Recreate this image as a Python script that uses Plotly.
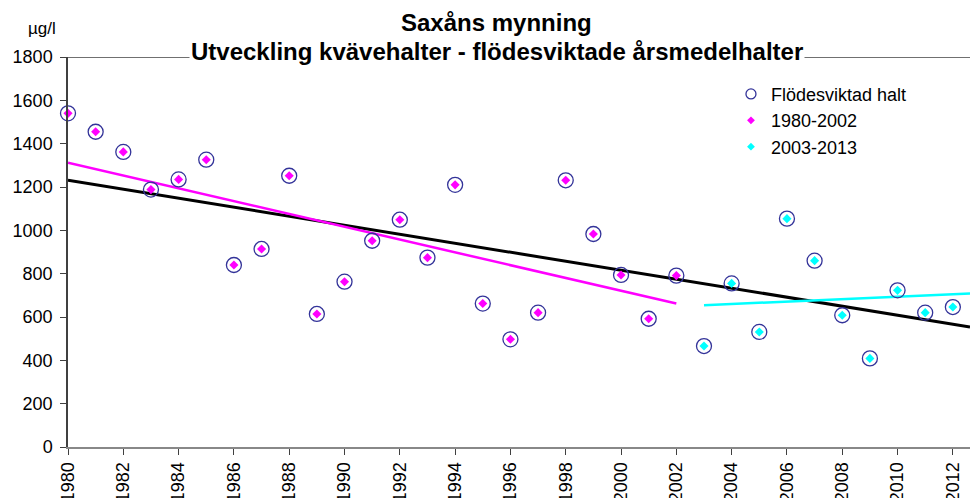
import plotly.graph_objects as go

# ---- data ----
years = list(range(1980, 2013))
values = [1540, 1455, 1362, 1188, 1235, 1326, 840, 914, 1252, 614,
          763, 952, 1049, 874, 1210, 662, 497, 620, 1231, 983,
          794, 592, 791, 466, 755, 531, 1054, 860, 608, 409,
          723, 620, 646]

period1_years = [y for y in years if y <= 2002]
period1_values = values[:len(period1_years)]
period2_years = [y for y in years if y >= 2003]
period2_values = values[len(period1_years):]

# trend lines (end points)
trend_all_x = [1980, 2012.62]
trend_all_y = [1231, 554]
trend_p1_x = [1980, 2002]
trend_p1_y = [1312, 662]
trend_p2_x = [2003, 2012.62]
trend_p2_y = [654, 709]

y_ticks = list(range(0, 1801, 200))
x_ticks = list(range(1980, 2013, 2))

FONT = "Liberation Sans, Arial, sans-serif"
NAVY = "#333399"
MAG = "#FF00FF"
CYAN = "#00FFFF"

fig = go.Figure()

# trend lines
fig.add_trace(go.Scatter(x=trend_all_x, y=trend_all_y, mode="lines",
                         line=dict(color="black", width=3), showlegend=False, hoverinfo="skip"))
fig.add_trace(go.Scatter(x=trend_p1_x, y=trend_p1_y, mode="lines",
                         line=dict(color=MAG, width=2.5), showlegend=False, hoverinfo="skip"))
fig.add_trace(go.Scatter(x=trend_p2_x, y=trend_p2_y, mode="lines",
                         line=dict(color=CYAN, width=2.5), showlegend=False, hoverinfo="skip"))

# data markers
fig.add_trace(go.Scatter(x=years, y=values, mode="markers", cliponaxis=False,
                         marker=dict(symbol="circle-open", size=15, color=NAVY, line=dict(width=1.3, color=NAVY)),
                         showlegend=False))
fig.add_trace(go.Scatter(x=period1_years, y=period1_values, mode="markers", cliponaxis=False,
                         marker=dict(symbol="diamond", size=7, color=MAG), showlegend=False))
fig.add_trace(go.Scatter(x=period2_years, y=period2_values, mode="markers", cliponaxis=False,
                         marker=dict(symbol="diamond", size=7, color=CYAN), showlegend=False))

# legend entries
fig.add_trace(go.Scatter(x=[None], y=[None], mode="markers", name="Flödesviktad halt",
                         marker=dict(symbol="circle-open", size=10, color=NAVY, line=dict(width=1.3, color=NAVY))))
fig.add_trace(go.Scatter(x=[None], y=[None], mode="markers", name="1980-2002",
                         marker=dict(symbol="diamond", size=6, color=MAG)))
fig.add_trace(go.Scatter(x=[None], y=[None], mode="markers", name="2003-2013",
                         marker=dict(symbol="diamond", size=6, color=CYAN)))

# top frame line at 1800
fig.add_shape(type="line", xref="paper", yref="y", x0=-0.0067, x1=1, y0=1800, y1=1800,
              line=dict(color="#404040", width=1.5), layer="above")

fig.add_annotation(text="<b>Saxåns mynning</b>", xref="paper", yref="paper", x=0.4756, y=1.089,
                   showarrow=False, font=dict(family=FONT, size=24, color="black"),
                   xanchor="center", yanchor="middle")
fig.add_annotation(text="<b>Utveckling kvävehalter - flödesviktade årsmedelhalter</b>", xref="paper", yref="paper",
                   x=0.4756, y=1.0146, showarrow=False, font=dict(family=FONT, size=24, color="black"),
                   xanchor="center", yanchor="middle", bgcolor="white", borderpad=1)
fig.add_annotation(text="µg/l", xref="paper", yref="paper", x=-0.0288, y=1.0736, showarrow=False,
                   font=dict(family=FONT, size=17, color="black"), xanchor="center", yanchor="middle")

fig.update_layout(
    width=970, height=498,
    margin=dict(l=68, r=0, t=57, b=51, autoexpand=False),
    paper_bgcolor="white", plot_bgcolor="white",
    font=dict(family=FONT, size=18, color="black"),
    legend=dict(x=0.735, y=0.952, xanchor="left", yanchor="top", bgcolor="rgba(0,0,0,0)",
                font=dict(family=FONT, size=18, color="black"), tracegroupgap=0),
    xaxis=dict(range=[1980, 2012.62], tickmode="array", tickvals=x_ticks, ticktext=[str(t) for t in x_ticks],
               tickangle=-90, showgrid=False, zeroline=False, showline=True, linecolor="#888888", linewidth=2,
               ticks="outside", ticklen=6, tickcolor="#404040", tickwidth=1, automargin=False,
               tickfont=dict(family=FONT, size=18, color="black")),
    yaxis=dict(range=[0, 1800], tickmode="array", tickvals=y_ticks, showgrid=False, zeroline=False,
               showline=True, linecolor="#404040", linewidth=1.5, ticks="outside", ticklen=6,
               tickcolor="#404040", tickwidth=1, ticklabelstandoff=4, automargin=False,
               tickfont=dict(family=FONT, size=18, color="black")),
)

fig.write_html("out.html", config={"displayModeBar": False},
               post_script="document.body.style.margin='0px';document.body.style.overflow='hidden';")
